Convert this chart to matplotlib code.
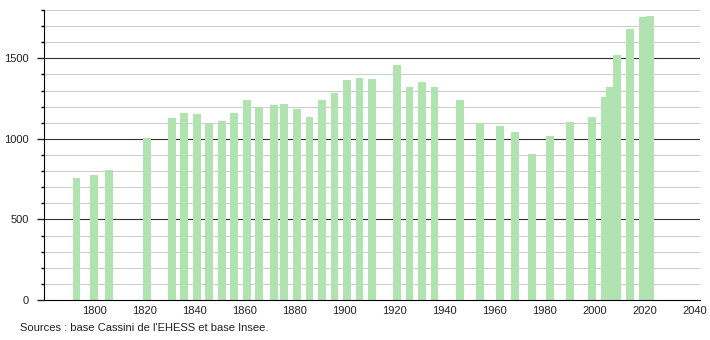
import matplotlib.pyplot as plt
from matplotlib.ticker import MultipleLocator

years = [1793, 1800, 1806, 1821, 1831, 1836, 1841, 1846, 1851, 1856,
         1861, 1866, 1872, 1876, 1881, 1886, 1891, 1896, 1901, 1906,
         1911, 1921, 1926, 1931, 1936, 1946, 1954, 1962, 1968, 1975,
         1982, 1990, 1999, 2004, 2006, 2009, 2014, 2019, 2022]
population = [760, 778, 809, 1005, 1127, 1162, 1152, 1100, 1108, 1158,
              1239, 1197, 1208, 1214, 1183, 1137, 1239, 1283, 1364, 1376,
              1370, 1457, 1324, 1351, 1320, 1239, 1100, 1083, 1040, 909,
              1021, 1106, 1135, 1262, 1322, 1519, 1681, 1754, 1764]
x_ticks = list(range(1800, 2041, 20))
source = "Sources : base Cassini de l'EHESS et base Insee."

plt.rcParams["font.family"] = ["Liberation Sans", "DejaVu Sans"]

fig = plt.figure(figsize=(7.1, 3.4), dpi=100)
ax = fig.add_axes([44 / 710, 40 / 340, 656 / 710, 290 / 340])

# grid lines under the bars
for v in range(100, 1801, 100):
    if v % 500 == 0:
        ax.axhline(v, color="#333333", linewidth=0.8, zorder=1)
    else:
        ax.axhline(v, color="#cccccc", linewidth=0.75, zorder=1)

ax.bar(years, population, width=3.1, color="#b1e3b1", zorder=2)

ax.set_xlim(1780, 2042)
ax.set_ylim(0, 1800)
ax.set_xticks(x_ticks)
ax.set_yticks([0, 500, 1000, 1500])
ax.yaxis.set_minor_locator(MultipleLocator(100))
ax.tick_params(axis="x", length=0, pad=4, labelsize=8, colors="#222222")
ax.tick_params(axis="y", which="major", length=5, width=1, pad=6,
               labelsize=8, colors="#222222")
ax.tick_params(axis="y", which="minor", length=2.5, width=1)

ax.spines["top"].set_visible(False)
ax.spines["right"].set_visible(False)
ax.spines["left"].set_color("black")
ax.spines["bottom"].set_color("black")

fig.text(20 / 710, 1 - 328 / 340, source, fontsize=8, color="#222222",
         va="center", ha="left")

plt.savefig("out.png", dpi=100)
plt.close()
